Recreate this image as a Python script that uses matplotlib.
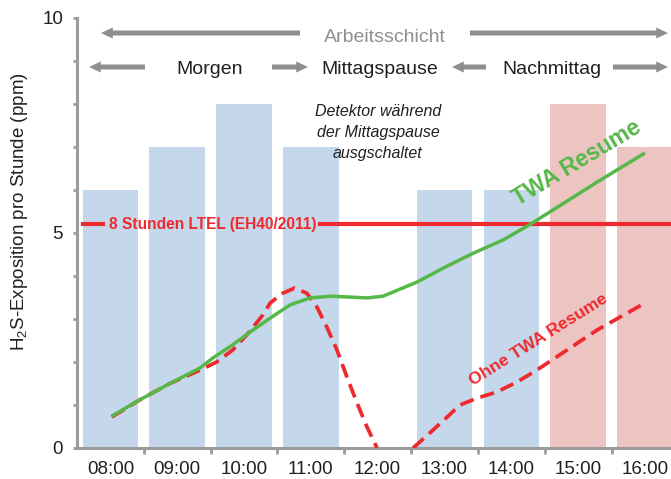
import numpy as np
import matplotlib.pyplot as plt
from matplotlib.patches import FancyArrowPatch
from matplotlib.ticker import MultipleLocator, FixedLocator

plt.rcParams['font.family'] = ['Liberation Sans', 'DejaVu Sans']
plt.rcParams['mathtext.fontset'] = 'custom'
plt.rcParams['mathtext.rm'] = 'Liberation Sans'
plt.rcParams['mathtext.default'] = 'regular'

# Stundenwerte H2S (ppm)
stunden = [8, 9, 10, 11, 12, 13, 14, 15, 16]
stunden_labels = ['08:00', '09:00', '10:00', '11:00', '12:00',
                  '13:00', '14:00', '15:00', '16:00']
exposition = [6, 7, 8, 7, 0, 6, 6, 8, 7]
ltel = 5.2

# TWA mit Resume (Stunden, ppm)
twa_t = [8.02, 8.44, 8.89, 9.34, 9.53, 9.83, 10.13, 10.39, 10.69, 10.99,
         11.29, 11.59, 11.84, 12.08, 12.59, 13.0, 13.43, 13.88, 14.28,
         14.73, 15.3, 16.0]
twa_v = [0.74, 1.12, 1.5, 1.86, 2.09, 2.4, 2.74, 3.02, 3.33, 3.49,
         3.53, 3.51, 3.49, 3.53, 3.86, 4.2, 4.53, 4.84, 5.2,
         5.64, 6.2, 6.86]

# TWA ohne Resume (zwei Abschnitte)
ohne1_t = [8.02, 8.44, 8.89, 9.34, 9.59, 9.83, 10.04, 10.28, 10.39, 10.58,
           10.76, 10.94, 11.09, 11.24, 11.39, 11.54, 11.69, 11.84, 11.99]
ohne1_v = [0.72, 1.12, 1.5, 1.81, 2.0, 2.28, 2.63, 3.09, 3.37, 3.6,
           3.72, 3.6, 3.28, 2.81, 2.28, 1.65, 1.05, 0.49, 0.0]
ohne2_t = [12.53, 12.78, 13.04, 13.23, 13.49, 13.78, 14.08, 14.38, 15.28, 16.0]
ohne2_v = [0.0, 0.35, 0.72, 1.0, 1.16, 1.3, 1.53, 1.81, 2.74, 3.37]

blau = '#c5d8eb'
rosa = '#ecc5c3'
gruen = '#56b848'
rot = '#ee2a2e'
grau = '#8e8f91'
achse = '#9b9b9b'
dunkel = '#231f20'

W, H = 671, 479
fig = plt.figure(figsize=(W / 100, H / 100), dpi=100)
ax = fig.add_axes([77 / W, 31 / H, (W - 77) / W, 430 / H])

bar_w = 0.83
farben = [rosa if h >= 15 else blau for h in stunden]
ax.bar(stunden, exposition, width=bar_w, color=farben, zorder=1)

ax.plot(twa_t, twa_v, color=gruen, lw=2.5, zorder=4,
        solid_capstyle='butt', solid_joinstyle='round')
ax.plot(ohne1_t, ohne1_v, color=rot, lw=2.7, dashes=(3.8, 1.9), zorder=3,
        dash_joinstyle='round')
ax.plot(ohne2_t, ohne2_v, color=rot, lw=2.7, dashes=(3.8, 1.9), zorder=3,
        dash_joinstyle='round')

ax.set_xlim(7.5, 16.39)
ax.set_ylim(0, 10)

# LTEL-Linie mit Beschriftung
lt = ax.text(9.53, ltel, '8 Stunden LTEL (EH40/2011)', color=rot,
             fontsize=11.2, fontweight='bold', ha='center', va='center', zorder=5)
fig.canvas.draw()
bb = lt.get_window_extent().transformed(ax.transData.inverted())
ax.plot([stunden[0] - bar_w / 2, bb.x0 - 0.09], [ltel, ltel], color=rot, lw=3, zorder=2)
ax.plot([bb.x1 + 0.06, 16.39], [ltel, ltel], color=rot, lw=3, zorder=2)

ax.text(14.98, 6.63, 'TWA Resume', color=gruen, fontsize=16.5, fontweight='bold',
        rotation=31, ha='center', va='center', zorder=6)
ax.text(14.40, 2.51, 'Ohne TWA Resume', color=rot, fontsize=12.5, fontweight='bold',
        rotation=32, ha='center', va='center', zorder=6)

# Achsen
for s in ['top', 'right']:
    ax.spines[s].set_visible(False)
for s in ['left', 'bottom']:
    ax.spines[s].set_color(achse)
    ax.spines[s].set_linewidth(2.2)

ax.set_yticks([0, 5, 10])
ax.yaxis.set_minor_locator(MultipleLocator(1))
ax.tick_params(axis='y', which='both', direction='out', length=3, width=2,
               color=achse, labelsize=13.5, pad=7, labelcolor=dunkel)
ax.set_xticks(stunden)
ax.set_xticklabels(stunden_labels)
ax.xaxis.set_minor_locator(FixedLocator([h + 0.5 for h in stunden[:-1]]))
ax.tick_params(axis='x', which='major', length=0, labelsize=13.5, pad=9,
               labelcolor=dunkel)
ax.tick_params(axis='x', which='minor', direction='out', length=4, width=2,
               color=achse)

fig.text(20 / W, 1 - 212 / H, 'H$_2$S-Exposition pro Stunde (ppm)',
         rotation=90, ha='center', va='center', fontsize=13.5, color=dunkel)

# Schichtpfeile oben
def pfeil(x0, x1, y):
    p = FancyArrowPatch((x0 / W, 1 - y / H), (x1 / W, 1 - y / H),
                        transform=fig.transFigure,
                        arrowstyle='simple,head_length=0.85,head_width=0.8,tail_width=0.36',
                        mutation_scale=10, color=grau, lw=0,
                        shrinkA=0, shrinkB=0)
    fig.add_artist(p)

pfeil(300, 101, 33)
pfeil(470, 668, 33)
pfeil(145, 89, 67)
pfeil(272, 308, 67)
pfeil(486, 452, 67)
pfeil(613, 668, 67)

fig.text(385 / W, 1 - 41.5 / H, 'Arbeitsschicht', color=grau, fontsize=14,
         ha='center', va='baseline')
fig.text(209.5 / W, 1 - 74 / H, 'Morgen', color=dunkel, fontsize=14,
         ha='center', va='baseline')
fig.text(380 / W, 1 - 74 / H, 'Mittagspause', color=dunkel, fontsize=14,
         ha='center', va='baseline')
fig.text(552 / W, 1 - 74 / H, 'Nachmittag', color=dunkel, fontsize=14,
         ha='center', va='baseline')

fig.text(378 / W, 1 - 158 / H, 'Detektor während\nder Mittagspause\nausgschaltet',
         color=dunkel, fontsize=11.5, style='italic', ha='center', va='baseline',
         multialignment='center', linespacing=1.5)

fig.savefig('out.png', dpi=100)
